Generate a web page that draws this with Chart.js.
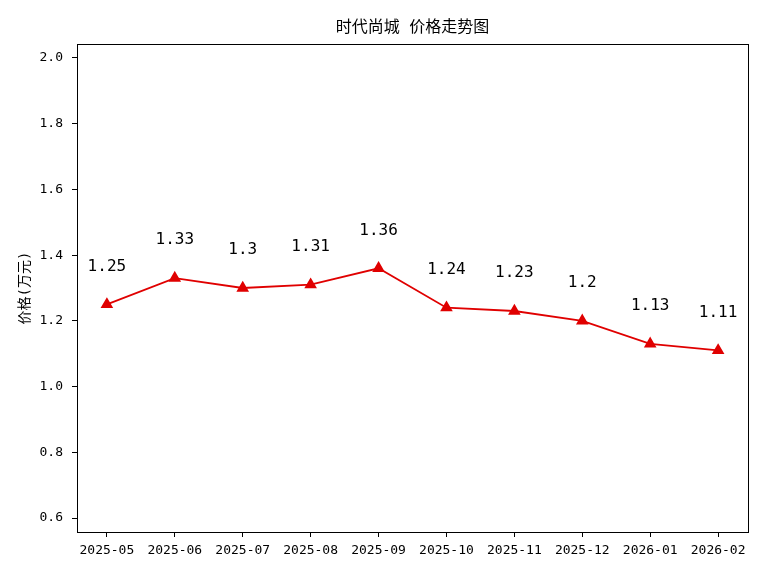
<!DOCTYPE html>
<html>
<head>
<meta charset="utf-8">
<script src="https://cdn.jsdelivr.net/npm/chart.js@4/dist/chart.umd.min.js"></script>
<style>
  html, body { margin: 0; padding: 0; background: #fff; }
  #wrap { width: 768px; height: 576px; }
</style>
</head>
<body>
<div id="wrap"><canvas id="grafico" width="768" height="576"></canvas></div>
<script>
// datos del grafico
const meses = ['2025-05', '2025-06', '2025-07', '2025-08', '2025-09', '2025-10', '2025-11', '2025-12', '2026-01', '2026-02'];
const precios = [1.25, 1.33, 1.3, 1.31, 1.36, 1.24, 1.23, 1.2, 1.13, 1.11];
const ticksY = [0.6, 0.8, 1.0, 1.2, 1.4, 1.6, 1.8, 2.0];

const titulo = '时代尚城 价格走势图';
const tituloY = '价格(万元)';
const fuente = '"DejaVu Sans Mono", "Noto Sans CJK SC", sans-serif';

// texto, marco y etiquetas
const extras = {
    id: 'extras',
    afterDraw(chart) {
        const ctx = chart.ctx;
        const area = chart.chartArea;
        const x = chart.scales.x;
        const y = chart.scales.y;
        ctx.save();
        ctx.strokeStyle = '#000';
        ctx.lineWidth = 1;
        ctx.strokeRect(area.left + 0.5, area.top + 0.5, area.right - area.left, area.bottom - area.top);

        ctx.fillStyle = '#000';
        ctx.textAlign = 'center';
        ctx.textBaseline = 'middle';
        ctx.font = '16px ' + fuente;
        ctx.fillText(titulo, (area.left + area.right) / 2, 28);

        ctx.save();
        ctx.translate(25, (area.top + area.bottom) / 2);
        ctx.rotate(-Math.PI / 2);
        ctx.font = '14px ' + fuente;
        ctx.fillText(tituloY, 0, 0);
        ctx.restore();

        ctx.font = '16px ' + fuente;
        ctx.textBaseline = 'bottom';
        precios.forEach((v, i) => {
            ctx.fillText(String(v), x.getPixelForValue(i), y.getPixelForValue(v + 0.1) + 3);
        });
        ctx.restore();
    }
};

const config = {
    type: 'line',
    data: {
        datasets: [{
            data: precios.map((v, i) => ({ x: i, y: v })),
            borderColor: '#e00000',
            backgroundColor: '#e00000',
            borderWidth: 1.8,
            pointStyle: 'triangle',
            pointRadius: 5.5,
            pointHoverRadius: 5.5,
            tension: 0,
            fill: false
        }]
    },
    options: {
        responsive: false,
        animation: false,
        events: [],
        layout: { padding: { top: 44, right: 20, left: 0, bottom: 0 } },
        plugins: {
            legend: { display: false },
            tooltip: { enabled: false }
        },
        scales: {
            x: {
                type: 'linear',
                min: -0.44,
                max: 9.44,
                afterBuildTicks: s => { s.ticks = meses.map((m, i) => ({ value: i })); },
                afterFit: s => { s.height = 44; },
                ticks: {
                    callback: v => meses[v],
                    color: '#000',
                    font: { family: fuente, size: 13 },
                    padding: 6,
                    maxRotation: 0,
                    autoSkip: false
                },
                grid: { drawOnChartArea: false, drawTicks: true, tickLength: 5, color: '#000' },
                border: { color: '#000' }
            },
            y: {
                min: 0.5574,
                max: 2.0426,
                afterBuildTicks: s => { s.ticks = ticksY.map(v => ({ value: v })); },
                afterFit: s => { s.width = 77; },
                ticks: {
                    callback: v => v.toFixed(1),
                    color: '#000',
                    font: { family: fuente, size: 13 },
                    padding: 9
                },
                grid: { drawOnChartArea: false, drawTicks: true, tickLength: 5, color: '#000' },
                border: { color: '#000' }
            }
        }
    },
    plugins: [extras]
};

const myChart = new Chart(document.getElementById('grafico').getContext('2d'), config);
</script>
</body>
</html>
